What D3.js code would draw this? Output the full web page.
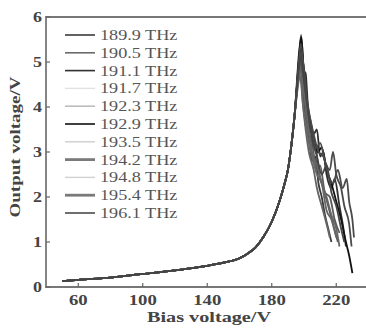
<!DOCTYPE html>
<html>
<head>
<meta charset="utf-8">
<script src="https://cdn.jsdelivr.net/npm/d3@7"></script>
<style>
  body { margin: 0; background: #fff; }
  svg { display: block; font-family: "Liberation Serif", "Times New Roman", serif; }
</style>
</head>
<body>
<div id="chart"></div>
<script>
// legend names
const freqs = ['189.9 THz', '190.5 THz', '191.1 THz', '191.7 THz', '192.3 THz', '192.9 THz',
               '193.5 THz', '194.2 THz', '194.8 THz', '195.4 THz', '196.1 THz'];
const xTicks = [60, 100, 140, 180, 220];
const yTicks = [0, 1, 2, 3, 4, 5, 6];

// shared rising part (bias V, output V)
const riseBias   = [50, 60, 80, 100, 120, 140, 150, 160, 165, 170, 175, 180, 185, 188, 190, 192, 194];
const riseOutput = [0.13, 0.16, 0.21, 0.29, 0.37, 0.47, 0.54, 0.64, 0.74, 0.88, 1.12, 1.45, 1.93, 2.3, 2.6, 3.1, 3.75];

// falling part after the resonance, one list per frequency
const tails = [
  [[197, 5.0], [198, 5.4], [199.5, 4.4], [201, 3.6], [203, 3.3], [205, 2.8], [207, 2.9], [209, 2.3], [211, 2.0], [213, 1.6], [215, 1.3], [217, 1.0]],
  [[197.2, 5.2], [198.2, 5.6], [199.8, 4.8], [200.8, 4.6], [201.5, 3.8], [203, 3.5], [205, 3.1], [207, 3.2], [209, 2.6], [212, 2.2], [215, 1.8], [218, 1.4], [221, 1.0]],
  [[197, 5.0], [198, 5.4], [200.2, 4.8], [201, 4.75], [202.5, 4.0], [204, 3.7], [206, 3.4], [208, 3.5], [210, 2.9], [212, 3.0], [214, 2.5], [217, 2.2], [219, 2.4], [222, 1.8], [224, 1.4], [226, 0.9]],
  [[196.5, 4.7], [197.5, 5.0], [199, 4.2], [201, 3.5], [203, 3.0], [206, 2.6], [208, 2.2], [211, 1.8], [214, 1.4], [216, 1.1]],
  [[196.6, 4.8], [197.8, 5.0], [200, 4.3], [202, 3.6], [205, 3.2], [208, 2.6], [210, 2.7], [213, 2.1], [216, 2.0], [219, 1.5], [222, 1.2]],
  [[197.2, 5.3], [198.3, 5.55], [200, 4.7], [201.5, 4.2], [203.5, 3.6], [206, 3.3], [208.5, 3.0], [211, 3.1], [214, 2.6], [217, 2.3], [220, 1.9], [223, 1.5], [226, 1.0], [228, 0.7], [230, 0.31]],
  [[196.4, 4.5], [197.5, 4.7], [199.5, 4.0], [202, 3.4], [205, 2.9], [208, 2.5], [211, 2.3], [214, 1.7], [217, 1.5], [220, 1.1]],
  [[196.8, 4.9], [198, 5.2], [200.6, 4.6], [202.5, 3.8], [205, 3.4], [207.5, 3.1], [210, 3.2], [213, 2.8], [216, 2.6], [218, 3.0], [220, 2.5], [223, 2.2], [225, 1.8], [228, 1.4], [229.5, 0.9]],
  [[196.5, 4.6], [197.7, 4.8], [200, 4.3], [202.5, 3.6], [205, 3.0], [208, 2.7], [211, 2.3], [214, 2.0], [217, 1.6], [220, 1.3], [222, 0.9]],
  [[196.8, 5.0], [198, 5.4], [200.6, 4.5], [203, 3.9], [206, 3.4], [209, 3.0], [212, 2.9], [215, 2.5], [218, 2.3], [221, 2.6], [224, 2.2], [226.5, 2.4], [228, 1.9], [230, 1.5], [231, 1.1]],
  [[196.6, 4.8], [197.8, 5.1], [200.3, 4.5], [202.5, 3.9], [205, 3.3], [208, 2.9], [211, 2.5], [214, 2.7], [217, 2.1], [220, 1.8], [223, 1.3], [225, 1.0]]
];

const colors = ['#3a3a3a', '#6a6a6a', '#303030', '#e2e2e2', '#bdbdbd', '#111111',
                '#cfcfcf', '#7a7a7a', '#d0d0d0', '#7a7a7a', '#4a4a4a'];
const plotColors = ['#3a3a3a', '#555', '#303030', '#666', '#5a5a5a', '#111111',
                    '#666', '#4a4a4a', '#666', '#4a4a4a', '#444'];
const widths = [1.6, 1.6, 1.6, 1.4, 1.6, 1.6, 1.4, 2.8, 1.4, 2.8, 1.6];

const W = 366, H = 329;
const svg = d3.select('#chart').append('svg').attr('width', W).attr('height', H);

const x = d3.scaleLinear().domain([40, 240]).range([46, 368.5]);
const y = d3.scaleLinear().domain([0, 6]).range([287, 17]);

// helper: horizontally stretched text
function stext(g, tx, ty, str, opts) {
  return g.append('text')
    .attr('transform', `translate(${tx},${ty}) ${opts.rot ? 'rotate(-90) ' : ''}scale(${opts.sx},1)`)
    .attr('text-anchor', opts.anchor || 'start')
    .attr('dy', opts.dy || 0)
    .attr('font-size', opts.size)
    .attr('font-weight', opts.weight || 'normal')
    .attr('fill', opts.fill || '#333')
    .text(str);
}

// curves
const line = d3.line().x(d => x(d[0])).y(d => y(d[1])).curve(d3.curveMonotoneX);
const rise = riseBias.map((b, i) => [b, riseOutput[i]]);
tails.forEach((t, i) => {
  svg.append('path')
    .datum(rise.concat(t))
    .attr('fill', 'none')
    .attr('stroke', plotColors[i])
    .attr('stroke-width', 1.8)
    .attr('stroke-linejoin', 'round')
    .attr('d', line);
});

// frame
svg.append('line').attr('x1', 46).attr('x2', W).attr('y1', y(6)).attr('y2', y(6))
  .attr('stroke', '#777').attr('stroke-width', 2);
svg.append('line').attr('x1', 46).attr('x2', W).attr('y1', y(0)).attr('y2', y(0))
  .attr('stroke', '#777').attr('stroke-width', 2);
svg.append('line').attr('x1', 46).attr('x2', 46).attr('y1', y(6) - 1).attr('y2', y(0) + 1)
  .attr('stroke', '#666').attr('stroke-width', 1.6);

// ticks
xTicks.forEach(v => {
  svg.append('line').attr('x1', x(v)).attr('x2', x(v)).attr('y1', y(0)).attr('y2', y(0) - 4)
    .attr('stroke', '#666').attr('stroke-width', 1.2);
  stext(svg, x(v), 305, v, { sx: 1.25, size: 15, anchor: 'middle', weight: 'bold', fill: '#444' });
});
yTicks.forEach(v => {
  svg.append('line').attr('x1', 46).attr('x2', 50).attr('y1', y(v)).attr('y2', y(v))
    .attr('stroke', '#666').attr('stroke-width', 1.2);
  stext(svg, 42, y(v), v, { sx: 1.2, size: 15, anchor: 'end', dy: '0.35em', weight: 'bold', fill: '#444' });
});

// axis titles
stext(svg, 209, 322, 'Bias voltage/V', { sx: 1.35, size: 15, anchor: 'middle', weight: 'bold', fill: '#444' });
stext(svg, 20, 147, 'Output voltage/V', { sx: 1.27, size: 15, anchor: 'middle', weight: 'bold', fill: '#444', rot: true });

// legend
const leg = svg.append('g');
freqs.forEach((f, i) => {
  const ly = 35 + i * 17.8;
  leg.append('line').attr('x1', 65).attr('x2', 95).attr('y1', ly).attr('y2', ly)
    .attr('stroke', colors[i]).attr('stroke-width', widths[i]);
  stext(leg, 100, ly, f, { sx: 1.3, size: 14, dy: '0.35em', fill: '#555' });
});
</script>
</body>
</html>
